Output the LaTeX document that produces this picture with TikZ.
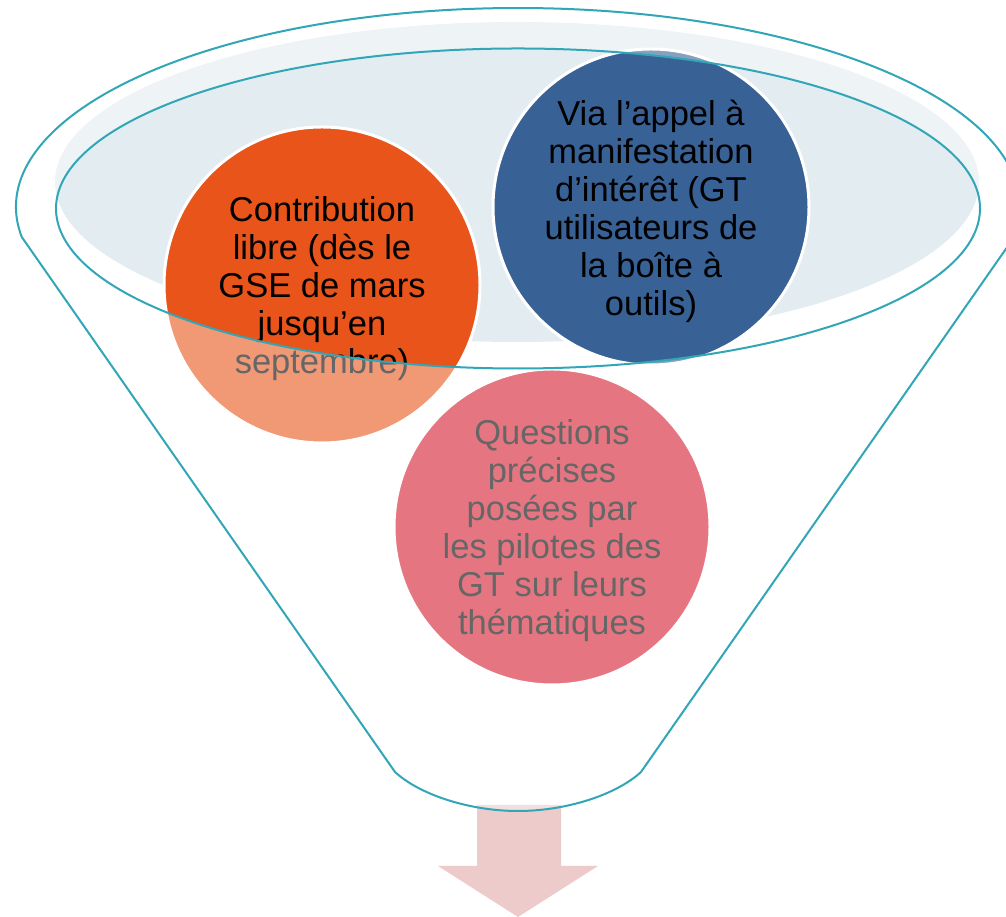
\documentclass[tikz,border=0pt]{standalone}
\usepackage{fontspec}
\setmainfont{Liberation Sans}
\definecolor{rimteal}{HTML}{31A6B7}
\definecolor{liquid}{HTML}{E3ECF1}
\definecolor{corange}{HTML}{E8541A}
\definecolor{cblue}{HTML}{386196}
\definecolor{cpink}{HTML}{D41C2E}
\definecolor{arrowpink}{HTML}{EDCBCB}
\tikzset{
  bubble/.style={circle, minimum size=316pt, inner sep=0pt, draw=white, line width=3pt},
  bubbletext/.style={inner sep=0pt, align=center, text=black, font=\fontsize{34.5}{38}\selectfont},
  rimline/.style={draw=rimteal, line width=2pt},
}
\begin{document}
\begin{tikzpicture}[x=1pt,y=1pt]
\useasboundingbox (0,0) rectangle (1006,917);
\clip (0,0) rectangle (1006,917);
% arrow below the funnel
\fill[arrowpink] (477,112) -- (561,112) -- (561,51) -- (598,51) -- (518,0) -- (438,51) -- (477,51) -- cycle;
% liquid surface
\fill[liquid] (517,735) ellipse [x radius=462pt, y radius=160pt];
% circles
\node[bubble, fill=corange] (contrib) at (322,632) {};
\node[bubbletext] (contribtext) at ([yshift=-4pt]contrib.center) {Contribution\\libre (dès le\\GSE de mars\\jusqu’en\\septembre)};
\node[bubble, fill=cblue] (appel) at (651,710) {};
\node[bubbletext] (appeltext) at ([yshift=-4pt]appel.center) {Via l’appel à\\manifestation\\d’intérêt (GT\\utilisateurs de\\la boîte à\\outils)};
\node[bubble, fill=cpink] (questions) at (552,390) {};
\node[bubbletext] (questionstext) at ([yshift=-4pt]questions.center) {Questions\\précises\\posées par\\les pilotes des\\GT sur leurs\\thématiques};
% translucent funnel body with opening
\path[fill=white, fill opacity=0.4, even odd rule]
  (21.74,680) arc[start angle=188.67, end angle=-8.67, x radius=502pt, y radius=199pt]
  -- (641,145) .. controls (616,122) and (566,106) .. (518,106)
  .. controls (470,106) and (420,122) .. (395,145) -- cycle
  (518,708.5) ellipse [x radius=462pt, y radius=160pt];
% outlines
\draw[rimline, line join=round]
  (21.74,680) arc[start angle=188.67, end angle=-8.67, x radius=502pt, y radius=199pt]
  -- (641,145) .. controls (616,122) and (566,106) .. (518,106)
  .. controls (470,106) and (420,122) .. (395,145) -- cycle;
\draw[rimline] (518,708.5) ellipse [x radius=462pt, y radius=160pt];
\end{tikzpicture}
\end{document}
